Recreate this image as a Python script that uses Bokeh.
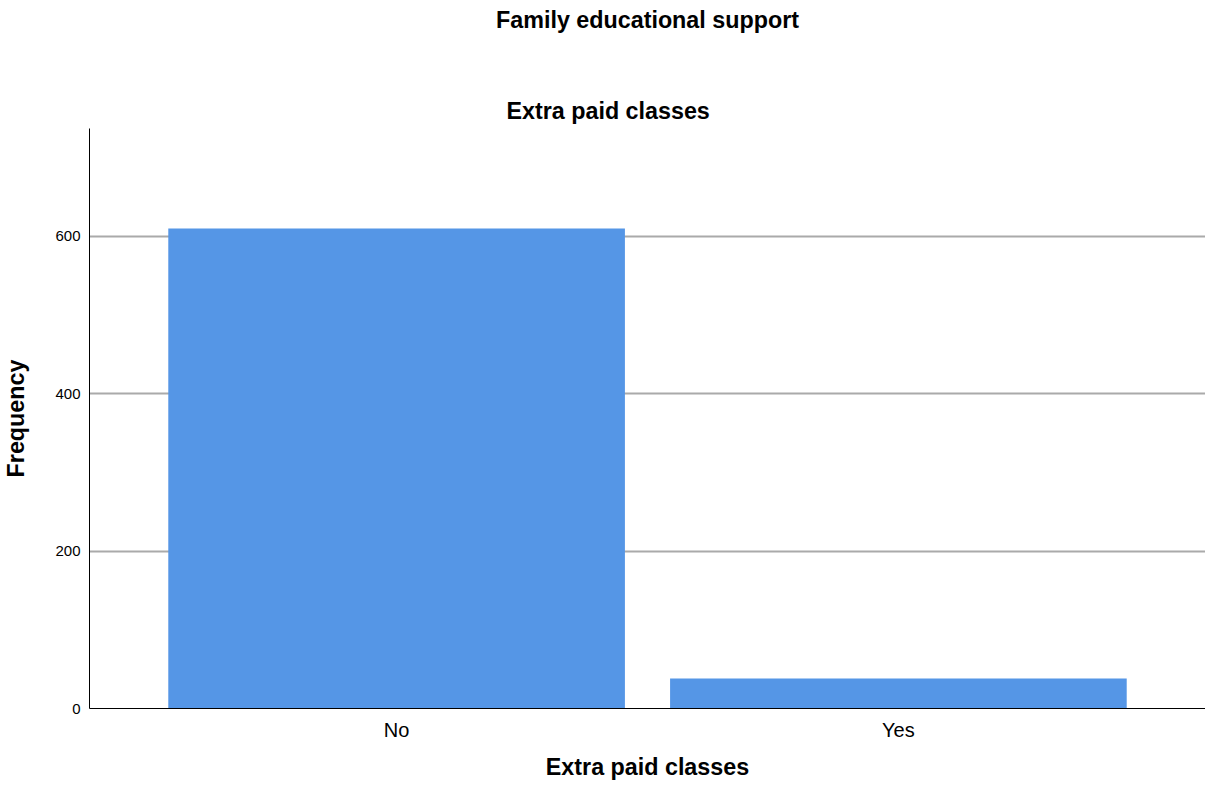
from bokeh.plotting import figure
from bokeh.models import FactorRange, Range1d, FixedTicker, Title, ColumnDataSource
from bokeh.embed import file_html
from bokeh.resources import INLINE

categories = ["No", "Yes"]
frequencies = [610, 38]
y_ticks = [0, 200, 400, 600]
chart_title = "Family educational support"
panel_title = "Extra paid classes"
x_title = "Extra paid classes"
y_title = "Frequency"

FONT = "Liberation Sans"
BOLD_SIZE = "23.3px"

src = ColumnDataSource(dict(cat=categories, freq=frequencies))
p = figure(width=1205, height=782,
           x_range=FactorRange(*categories, range_padding=0.112, range_padding_units="absolute"),
           y_range=Range1d(0, 737),
           output_backend="svg", toolbar_location=None,
           min_border_left=81, min_border_right=0, min_border_top=0, min_border_bottom=0)
p.vbar(x="cat", top="freq", width=0.91, source=src, color="#5596E6", line_color=None)

p.outline_line_color = None
p.background_fill_color = "white"
p.border_fill_color = "white"
p.xgrid.grid_line_color = None
p.ygrid.grid_line_color = "#aaaaaa"
p.ygrid.grid_line_width = 2
p.ygrid.ticker = FixedTicker(ticks=y_ticks)

p.yaxis.ticker = FixedTicker(ticks=y_ticks)
for ax in (p.xaxis[0], p.yaxis[0]):
    ax.major_tick_line_color = None
    ax.minor_tick_line_color = None
    ax.major_tick_out = 0
    ax.major_tick_in = 0
    ax.minor_tick_out = 0
    ax.axis_line_color = "black"
    ax.axis_line_width = 1
    ax.major_label_text_font = FONT
    ax.major_label_text_color = "black"
    ax.axis_label_text_font = FONT
    ax.axis_label_text_font_style = "bold"
    ax.axis_label_text_font_size = BOLD_SIZE
    ax.axis_label_text_color = "black"

p.yaxis.major_label_text_font_size = "15px"
p.yaxis.major_label_standoff = 9
p.yaxis.axis_label = y_title
p.yaxis.axis_label_standoff = 23

p.xaxis.major_label_text_font_size = "20px"
p.xaxis.major_label_standoff = 10
p.xaxis.axis_label = x_title
p.xaxis.axis_label_standoff = 10

p.title = None
# stacked outward from the frame: subtitle, spacer, main title
p.add_layout(Title(text=panel_title, text_font=FONT, text_font_style="bold",
                   text_font_size=BOLD_SIZE, text_color="black", align="left",
                   offset=417, vertical_align="bottom", standoff=9.5), "above")
p.add_layout(Title(text=" ", text_font=FONT, text_font_size="1px",
                   align="center", standoff=51), "above")
p.add_layout(Title(text=chart_title, text_font=FONT, text_font_style="bold",
                   text_font_size=BOLD_SIZE, text_color="black", align="center",
                   vertical_align="bottom", standoff=7.5), "above")

open("out.html", "w").write(file_html(p, INLINE))
